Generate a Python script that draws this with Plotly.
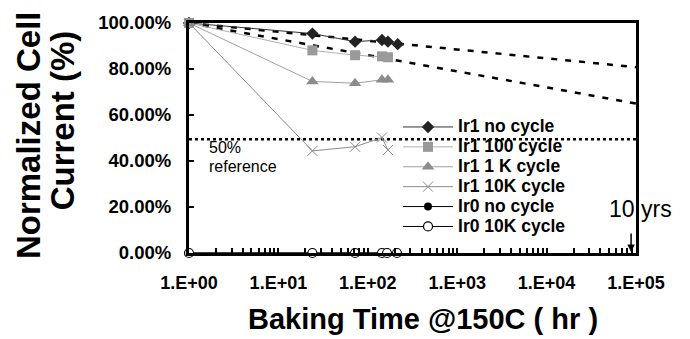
import plotly.graph_objects as go

# ---- data ----
ir1_no_x = [1, 24, 72, 144, 168, 216]
ir1_no_y = [1.0, 0.954, 0.919, 0.926, 0.919, 0.908]

ir1_100_x = [1, 24, 72, 144, 168]
ir1_100_y = [1.0, 0.881, 0.860, 0.855, 0.851]

ir1_1k_x = [1, 24, 72, 144, 168]
ir1_1k_y = [1.0, 0.746, 0.738, 0.753, 0.753]

ir1_10k_x = [1, 24, 72, 144, 168]
ir1_10k_y = [1.0, 0.444, 0.462, 0.502, 0.448]

ir0_no_x = [1, 24, 72, 144, 164, 212]
ir0_no_y = [0, 0, 0, 0, 0, 0]

ir0_10k_x = [1, 24, 72, 144, 164, 212]
ir0_10k_y = [0, 0, 0, 0, 0, 0]

fit_x = [1, 1e5]
fit_hi_y = [1.0, 0.808]
fit_lo_y = [1.0, 0.65]

ref_x = [1, 1e5]
ref_y = [0.495, 0.495]

x_tickvals = [1, 10, 100, 1000, 10000, 100000]
x_ticktext = ["1.E+00", "1.E+01", "1.E+02", "1.E+03", "1.E+04", "1.E+05"]
y_tickvals = [0, 0.2, 0.4, 0.6, 0.8, 1.0]

FONT = "Liberation Sans, Arial, sans-serif"


def lname(s):
    return '<span style="font-size:17.5px">' + s + '</span>'


fig = go.Figure()

# extrapolation lines and 50% reference
fig.add_trace(go.Scatter(x=fit_x, y=fit_hi_y, mode="lines", showlegend=False,
                         line=dict(color="black", width=2.5, dash="6px,8px")))
fig.add_trace(go.Scatter(x=fit_x, y=fit_lo_y, mode="lines", showlegend=False,
                         line=dict(color="black", width=2.5, dash="6px,8px")))
fig.add_trace(go.Scatter(x=ref_x, y=ref_y, mode="lines", showlegend=False,
                         line=dict(color="black", width=2.5, dash="dot")))

fig.add_trace(go.Scatter(x=ir1_no_x, y=ir1_no_y, mode="lines+markers", name=lname("Ir1 no cycle"),
                         line=dict(color="#333333", width=1),
                         marker=dict(symbol="diamond", size=9.5, color="#222222")))
fig.add_trace(go.Scatter(x=ir1_100_x, y=ir1_100_y, mode="lines+markers", name=lname("Ir1 100 cycle"),
                         line=dict(color="#b0b0b0", width=1),
                         marker=dict(symbol="square", size=10, color="#9a9a9a")))
fig.add_trace(go.Scatter(x=ir1_1k_x, y=ir1_1k_y, mode="lines+markers", name=lname("Ir1 1 K cycle"),
                         line=dict(color="#a0a0a0", width=1),
                         marker=dict(symbol="triangle-up", size=11, color="#8c8c8c")))
fig.add_trace(go.Scatter(x=ir1_10k_x, y=ir1_10k_y, mode="lines+markers", name=lname("Ir1 10K cycle"),
                         line=dict(color="#8a8a8a", width=1),
                         marker=dict(symbol="x-thin-open", size=10, color="#888888",
                                     line=dict(color="#888888", width=1))))
fig.add_trace(go.Scatter(x=ir0_no_x, y=ir0_no_y, mode="lines+markers", name=lname("Ir0 no cycle"),
                         line=dict(color="black", width=1),
                         marker=dict(symbol="circle", size=8, color="black")))
fig.add_trace(go.Scatter(x=ir0_10k_x, y=ir0_10k_y, mode="lines+markers", name=lname("Ir0 10K cycle"),
                         line=dict(color="black", width=1),
                         marker=dict(symbol="circle", size=9, color="white",
                                     line=dict(color="black", width=1.2))))

fig.update_traces(cliponaxis=False)

fig.update_xaxes(type="log", range=[0, 5], tickvals=x_tickvals, ticktext=x_ticktext,
                 showgrid=False, zeroline=False, showline=True, linecolor="black",
                 linewidth=3, mirror=True, ticks="inside", ticklen=5, tickwidth=1.5,
                 tickcolor="black", ticklabelstandoff=11,
                 tickfont=dict(family=FONT, size=18, color="black", weight="bold"),
                 minor=dict(ticks="inside", ticklen=5, tickwidth=1.5, tickcolor="black",
                            dtick="D1", showgrid=False))
fig.update_yaxes(range=[0, 1.0], tickvals=y_tickvals, tickformat=".2%",
                 showgrid=False, zeroline=False, showline=True, linecolor="black",
                 linewidth=3, mirror=True, ticks="inside", ticklen=5, tickwidth=1.5,
                 tickcolor="black", ticklabelstandoff=11,
                 tickfont=dict(family=FONT, size=18.5, color="black", weight="bold"))

ann = []
ann.append(dict(text="Normalized Cell", xref="paper", yref="paper", x=-0.360, y=0.513,
                textangle=-90, showarrow=False, xanchor="center", yanchor="middle",
                font=dict(family=FONT, size=33, color="black", weight="bold")))
ann.append(dict(text="Current (%)", xref="paper", yref="paper", x=-0.284, y=0.577,
                textangle=-90, showarrow=False, xanchor="center", yanchor="middle",
                font=dict(family=FONT, size=33, color="black", weight="bold")))
ann.append(dict(text="Baking Time @150C ( hr )", xref="paper", yref="paper", x=0.5235, y=-0.289,
                showarrow=False, xanchor="center", yanchor="middle",
                font=dict(family=FONT, size=29, color="black", weight="bold")))
ann.append(dict(text="50%", xref="paper", yref="paper", x=0.0396, y=0.457,
                showarrow=False, xanchor="left", yanchor="middle",
                font=dict(family=FONT, size=16, color="black")))
ann.append(dict(text="reference", xref="paper", yref="paper", x=0.0396, y=0.378,
                showarrow=False, xanchor="left", yanchor="middle",
                font=dict(family=FONT, size=16, color="black")))
ann.append(dict(text="10 yrs", xref="paper", yref="paper", x=1.011, y=0.191,
                showarrow=False, xanchor="center", yanchor="middle",
                font=dict(family=FONT, size=23, color="black")))
ann.append(dict(text="", xref="paper", yref="paper", x=0.989, y=0.004,
                showarrow=True, ax=0, ay=-20, arrowhead=2, arrowsize=1,
                arrowwidth=1.5, arrowcolor="black"))

fig.update_layout(
    width=690, height=339,
    margin=dict(l=189, r=54, t=18, b=86),
    paper_bgcolor="white", plot_bgcolor="white",
    font=dict(family=FONT, color="black"),
    annotations=ann,
    legend=dict(x=0.4676, y=0.613, xanchor="left", yanchor="top",
                bgcolor="rgba(0,0,0,0)", borderwidth=0, itemwidth=50,
                font=dict(family=FONT, size=13, color="black", weight="bold"),
                tracegroupgap=0),
)

fig.write_html("out.html")
